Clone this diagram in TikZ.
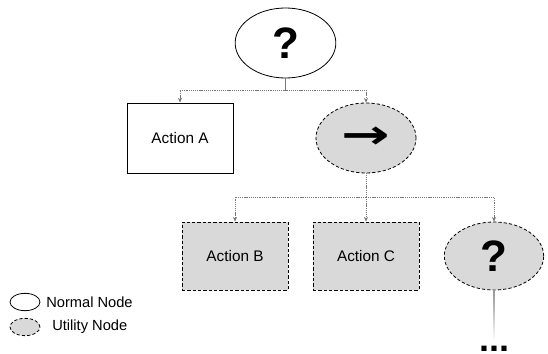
\documentclass[tikz,border=0pt]{standalone}
\usepackage{fontspec}
\usepackage{graphicx}
\setmainfont{Liberation Sans}
\newfontfamily\symfont{DejaVu Sans}
\usetikzlibrary{shapes.geometric,arrows.meta,calc}
\definecolor{utilfill}{RGB}{217,217,217}
\definecolor{linkgray}{RGB}{120,120,120}
\tikzset{
  normalnode/.style={ellipse,draw=black,line width=0.6pt,inner sep=0pt},
  utilnode/.style={ellipse,draw=black,fill=utilfill,line width=0.6pt,dash pattern=on 2.4pt off 1.6pt,inner sep=0pt},
  actionbox/.style={rectangle,draw=black,line width=0.7pt,inner sep=0pt,font=\fontsize{11.5}{13}\selectfont},
  utilbox/.style={actionbox,fill=utilfill,dash pattern=on 2.4pt off 1.6pt},
  bigmark/.style={font=\fontsize{33}{36}\selectfont\bfseries},
  link/.style={draw=linkgray,line width=0.4pt},
  dotlink/.style={link,dash pattern=on 0.8pt off 0.6pt},
  tip/.style={-{Stealth[length=3.5pt,width=3pt]}},
  legendtext/.style={anchor=west,font=\fontsize{11}{13}\selectfont,inner sep=0pt}
}
\begin{document}
\begin{tikzpicture}[x=0.75pt,y=-0.75pt]
\useasboundingbox (0,0) rectangle (548,353);

% root selector
\node[normalnode,minimum width=75.5pt,minimum height=52.5pt,bigmark] (root) at (285.5,43) {?};

% first level
\node[actionbox,minimum width=79.5pt,minimum height=52.5pt] (actA) at (180,138) {Action A};
\node[utilnode,minimum width=75pt,minimum height=52.5pt] (seq) at (366,138)
  {\scalebox{1.45}[1]{\symfont\fontsize{30}{32}\selectfont\bfseries →}};

% second level
\node[utilbox,minimum width=79.5pt,minimum height=51pt] (actB) at (235,256) {Action B};
\node[utilbox,minimum width=79.5pt,minimum height=51pt] (actC) at (366,256) {Action C};
\node[utilnode,minimum width=74.5pt,minimum height=51pt,bigmark] (sel) at (494,256) {?};

% connectors from the root
\coordinate (j1) at (285.5,90);
\draw[link] (root.south) -- (j1);
\draw[dotlink,tip] (j1) -| (actA.north);
\draw[dotlink,tip] (j1) -| (seq.north);

% connectors from the sequence
\coordinate (j2) at (366,197);
\draw[dotlink] (seq.south) -- (j2);
\draw[dotlink,tip] (j2) -| (actB.north);
\draw[dotlink,tip] (j2) -- (actC.north);
\draw[dotlink,tip] (j2) -| (sel.north);

% continuation below the nested selector, fading out
\node[anchor=base,inner sep=0pt,font=\fontsize{27}{30}\selectfont\bfseries] (more) at (494,351) {...};
\shade[top color=linkgray!80,bottom color=white]
  ($(sel.south)+(-0.3,0)$) rectangle ($(sel.south)+(0.3,50)$);

% legend
\node[normalnode,minimum width=22.5pt,minimum height=13pt] (lgA) at (25,302) {};
\node[legendtext] (lgAt) at (46,302) {Normal Node};
\node[utilnode,minimum width=22.5pt,minimum height=13pt] (lgB) at (25,327) {};
\node[legendtext] (lgBt) at (52,327) {Utility Node};
\end{tikzpicture}
\end{document}
